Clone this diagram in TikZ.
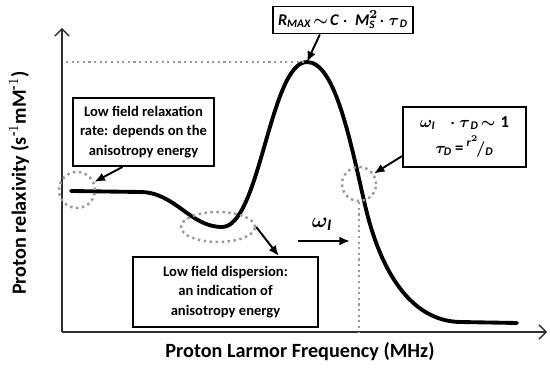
\documentclass[tikz,border=0pt]{standalone}
\usepackage{fontspec}
\setmainfont{Carlito}
\usepackage{amsmath}
\usetikzlibrary{arrows.meta,positioning,shapes.geometric}
\definecolor{dotGray}{HTML}{9A9A9A}
\definecolor{axisGray}{HTML}{2E2E2E}
\newcommand{\bvar}[1]{\text{\bfseries\itshape #1}}

\begin{document}
\begin{tikzpicture}[x=0.02cm,y=-0.02cm,
        box/.style={draw,line width=1.1pt,fill=white,align=center,inner sep=0pt,
        font=\fontsize{8.3}{11.3}\selectfont\bfseries},
        mathbox/.style={draw,line width=1.1pt,fill=white,align=center,inner sep=0pt,
        font=\fontsize{9.5}{12}\selectfont\boldmath},
        arrow/.style={-{Latex[length=6pt,width=5pt]},line width=1.1pt},
        axis/.style={-{Straight Barb[length=4pt,width=8pt]},line width=0.8pt,draw=axisGray},
        ring/.style={draw=dotGray,line width=1.4pt,dotted,inner sep=0pt},
        guide/.style={draw=dotGray,line width=1.2pt,dotted},
        curve/.style={line width=2.2pt,line cap=round,line join=round}]
        \useasboundingbox (0,0) rectangle (550,374);
        % axes
        \coordinate (O) at (62,332);
        \coordinate (ytip) at (62,28);
        \coordinate (xtip) at (547,332);
        \draw[axis] (O) -- (ytip);
        \draw[axis] (O) -- (xtip);
        \node[rotate=90,font=\fontsize{11.5}{13}\selectfont\bfseries] (ylab) at (19,183)
            {Proton relaxivity (s$^{\text{-}1}$mM$^{\text{-}1}$)};
        \node[font=\fontsize{11.5}{13}\selectfont\bfseries] (xlab) at (300,352)
            {Proton Larmor Frequency (MHz)};
        % relaxivity profile
        \coordinate (peak) at (307,62);
        \draw[curve] (71,191) -- (140,192) .. controls (175,192) and (190,227) .. (222,227)
            .. controls (260,227) and (270,62) .. (peak)
            .. controls (335,62) and (350,140) .. (365,205)
            .. controls (380,270) and (410,321) .. (460,322) -- (517,323);
        % marked regions
        \node[ring,circle,minimum size=0.72cm] (lowring) at (77,190) {};
        \node[ring,ellipse,minimum width=1.48cm,minimum height=0.6cm] (dipring) at (218,227) {};
        \node[ring,circle,minimum size=0.68cm] (fastring) at (359,184) {};
        \coordinate (yref) at (66,62);
        \draw[guide] (yref) -- (peak);
        \coordinate (xref) at (359,332);
        \draw[guide] (fastring.south) -- (xref);
        % boxes
        \node[box,minimum width=2.82cm,minimum height=1.36cm] (lowbox) at (143.5,132)
            {Low field relaxation\\rate: depends on the\\anisotropy energy};
        \node[box,minimum width=3.7cm,minimum height=1.4cm] (dipbox) at (225.5,292)
            {Low field dispersion:\\an indication of\\anisotropy energy};
        \node[mathbox,minimum width=2.8cm,minimum height=0.54cm,font=\fontsize{9.3}{11}\selectfont\boldmath]
            (maxbox) at (343,20)
            {$\bvar{R}_{\bvar{MAX}}\!\sim\!\bvar{C}\cdot\,\bvar{M}_{\bvar{S}}^{\mathbf{2}}\!\cdot\tau_{\,\bvar{D}}$};
        \node[mathbox,minimum width=2.46cm,minimum height=1.2cm] (timebox) at (464.5,137)
            {$\omega_{\bvar{I}}\;\;\cdot\tau_{\,\bvar{D}}\!\sim\text{\bfseries 1}$\\[3pt]
             $\tau_{\bvar{D}}\,\text{\bfseries =}\,{}^{\bvar{r}^{\mathbf{2}}}\!/_{\bvar{D}}$};
        % connectors
        \draw[arrow] (maxbox.212) -- (peak);
        \draw[arrow] (lowbox.239) -- (lowring.25);
        \draw[arrow] (dipring.east) -- (dipbox.34);
        \draw[arrow] (timebox.197) -- (fastring.35);
        \coordinate (wstart) at (298,241);
        \coordinate (wend) at (350,241);
        \draw[arrow,line width=1.4pt] (wstart) -- (wend);
        \node[font=\fontsize{13}{15}\selectfont\boldmath] (wlab) at (322,224) {$\omega_{\bvar{I}}$};
    \end{tikzpicture}
\end{document}
